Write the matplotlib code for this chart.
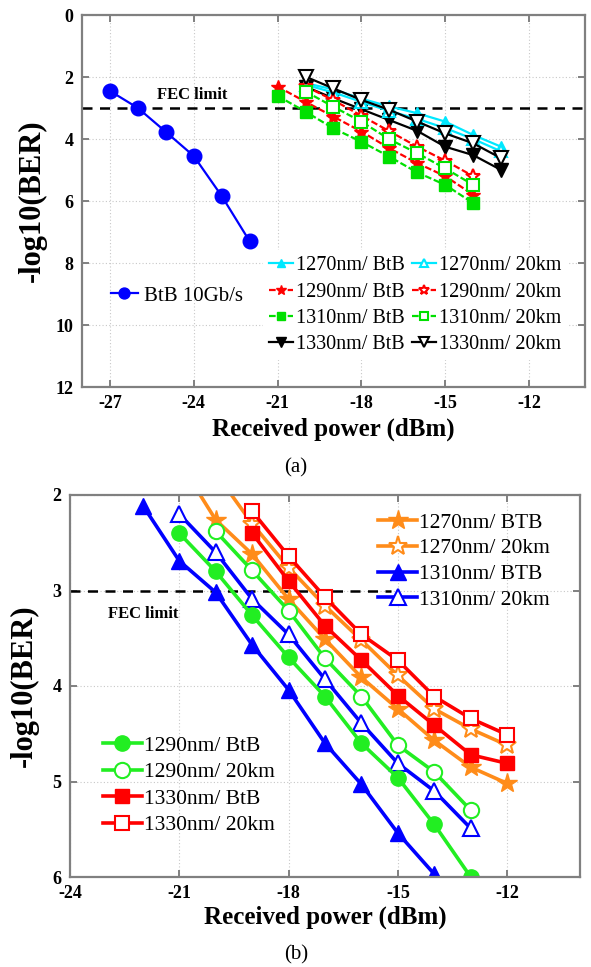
import matplotlib
matplotlib.use('Agg')
import matplotlib.pyplot as plt

plt.rcParams['font.family'] = ['Liberation Serif', 'DejaVu Serif']
plt.rcParams['axes.unicode_minus'] = False

# ---- data, panel (a) ----
x_10g = [-27, -26, -25, -24, -23, -22]
ber_10g = [2.45, 3.0, 3.77, 4.55, 5.84, 7.3]

x_a_20 = [-20, -19, -18, -17, -16, -15, -14, -13]
x_a_21 = [-21, -20, -19, -18, -17, -16, -15, -14]
x_a_20s = [-20, -19, -18, -17, -16, -15, -14]

a_1270_btb = [2.2, 2.4, 2.7, 2.95, 3.17, 3.44, 3.87, 4.25]
a_1270_20km = [2.25, 2.5, 2.8, 3.1, 3.35, 3.65, 4.0, 4.4]
a_1290_btb = [2.31, 2.8, 3.28, 3.76, 4.3, 4.78, 5.2, 5.8]
a_1290_20km = [2.3, 2.75, 3.25, 3.75, 4.25, 4.7, 5.2]
a_1310_btb = [2.61, 3.12, 3.66, 4.09, 4.57, 5.08, 5.48, 6.07]
a_1310_20km = [2.47, 2.96, 3.44, 4.01, 4.46, 4.95, 5.48]
a_1330_btb = [2.31, 2.69, 3.04, 3.39, 3.74, 4.25, 4.52, 5.0]
a_1330_20km = [1.99, 2.37, 2.74, 3.06, 3.44, 3.82, 4.14, 4.62]

# ---- data, panel (b) ----
b_x_1270_btb = [-21, -20, -19, -18, -17, -16, -15, -14, -13, -12]
b_1270_btb = [1.65, 2.26, 2.62, 3.09, 3.51, 3.91, 4.24, 4.57, 4.85, 5.02]
b_x_1270_20km = [-20, -19, -18, -17, -16, -15, -14, -13, -12]
b_1270_20km = [1.77, 2.3, 2.76, 3.16, 3.52, 3.89, 4.24, 4.45, 4.62]
b_x_1310_btb = [-22, -21, -20, -19, -18, -17, -16, -15, -14]
b_1310_btb = [2.11, 2.69, 3.02, 3.57, 4.04, 4.6, 5.03, 5.54, 5.97]
b_x_1310_20km = [-21, -20, -19, -18, -17, -16, -15, -14, -13]
b_1310_20km = [2.2, 2.6, 3.09, 3.46, 3.93, 4.39, 4.81, 5.1, 5.49]
b_x_1290_btb = [-21, -20, -19, -18, -17, -16, -15, -14, -13]
b_1290_btb = [2.4, 2.8, 3.26, 3.7, 4.11, 4.6, 4.96, 5.45, 6.0]
b_x_1290_20km = [-20, -19, -18, -17, -16, -15, -14, -13]
b_1290_20km = [2.38, 2.79, 3.21, 3.71, 4.11, 4.62, 4.9, 5.3]
b_x_1330 = [-19, -18, -17, -16, -15, -14, -13, -12]
b_1330_btb = [2.4, 2.9, 3.37, 3.73, 4.1, 4.41, 4.72, 4.81]
b_1330_20km = [2.17, 2.64, 3.07, 3.46, 3.73, 4.11, 4.34, 4.51]

fec = 3

frame_col = '#808080'
grid_col = '#c8c8c8'


def style_axes(ax):
    for s in ax.spines.values():
        s.set_color(frame_col)
        s.set_linewidth(1.6)
    ax.tick_params(direction='in', top=True, right=True, length=5, width=1.4,
                   color=frame_col, labelsize=13, pad=6)
    for lab in ax.get_xticklabels() + ax.get_yticklabels():
        lab.set_fontweight('bold')
    ax.grid(True, linestyle=(0, (1, 2)), color=grid_col, linewidth=0.8)
    ax.set_axisbelow(True)


fig = plt.figure(figsize=(5.91, 9.67), dpi=100)

# ================= panel (a) =================
ax1 = fig.add_axes([82 / 591, 1 - 387 / 967, 503 / 591, 372 / 967])
ax1.set_xlim(-28, -10)
ax1.set_ylim(12, 0)
ax1.set_xticks([-27, -24, -21, -18, -15, -12])
ax1.set_yticks([0, 2, 4, 6, 8, 10, 12])

ax1.axhline(fec, color='black', lw=1.8, linestyle=(0, (4, 3)), zorder=2)
ax1.text(-25.3, 2.58, 'FEC limit', fontsize=12, fontweight='bold', va='center')

h10, = ax1.plot(x_10g, ber_10g, color='#0000ff', lw=1.6, marker='o', ms=10.5,
                label='BtB 10Gb/s')

dash = (0, (3, 1.2))
mk_open = dict(markerfacecolor='white', markeredgewidth=1.5)
hs = []
hs += ax1.plot(x_a_20, a_1270_btb, color='#00e8ff', lw=1.6, marker='^', ms=9,
               label='1270nm/ BtB')
hs += ax1.plot(x_a_21, a_1290_btb, color='#ff0000', lw=1.6, ls=dash, marker='*', ms=10,
               label='1290nm/ BtB')
hs += ax1.plot(x_a_21, a_1310_btb, color='#00e000', lw=1.6, ls=dash, marker='s', ms=9,
               label='1310nm/ BtB')
hs += ax1.plot(x_a_20, a_1330_btb, color='black', lw=1.6, marker='v', ms=10,
               label='1330nm/ BtB')
hs += ax1.plot(x_a_20, a_1270_20km, color='#00e8ff', lw=1.6, marker='^', ms=9,
               label='1270nm/ 20km', **mk_open)
hs += ax1.plot(x_a_20s, a_1290_20km, color='#ff0000', lw=1.6, ls=dash, marker='*', ms=10,
               label='1290nm/ 20km', **mk_open)
hs += ax1.plot(x_a_20s, a_1310_20km, color='#00e000', lw=1.6, ls=dash, marker='s', ms=9,
               label='1310nm/ 20km', **mk_open)
hs += ax1.plot(x_a_20, a_1330_20km, color='black', lw=1.6, marker='v', ms=10.5,
               label='1330nm/ 20km', **mk_open)

leg1 = ax1.legend(handles=[h10], loc='center left', bbox_to_anchor=(0.02, 0.245),
                  frameon=False, fontsize=15, handlelength=1.3, handletextpad=0.3,
                  markerscale=0.75)
ax1.add_artist(leg1)
leg2 = ax1.legend(handles=hs, ncol=2, loc='upper left', bbox_to_anchor=(0.34, 0.395),
                  fontsize=14.5, handlelength=1.2, handletextpad=0.15, columnspacing=0.35,
                  labelspacing=0.36, markerscale=0.7, framealpha=1, edgecolor='white',
                  fancybox=False, borderpad=0.3)
leg2.get_frame().set_linewidth(0)

style_axes(ax1)
ax1.set_xlabel('Received power (dBm)', fontsize=18, fontweight='bold', labelpad=4)
ax1.set_ylabel('-log10(BER)', fontsize=22, fontweight='bold', labelpad=6)
fig.text(296 / 591, 1 - 468 / 967, '(a)', fontsize=15, ha='center', va='center')

# ================= panel (b) =================
ax2 = fig.add_axes([70 / 591, 1 - 877 / 967, 510 / 591, 382 / 967])
ax2.set_xlim(-24, -10)
ax2.set_ylim(6, 2)
ax2.set_xticks([-24, -21, -18, -15, -12])
ax2.set_yticks([2, 3, 4, 5, 6])

ax2.axhline(fec, xmin=0, xmax=0.63, color='black', lw=1.8, linestyle=(0, (4, 3)), zorder=2)
ax2.text(-22.95, 3.25, 'FEC limit', fontsize=12, fontweight='bold', va='center')

orange = '#ff8c1a'
lw_b = 2.6
g1 = []
g1 += ax2.plot(b_x_1270_btb, b_1270_btb, color=orange, lw=lw_b, marker='*', ms=15,
               label='1270nm/ BTB')
g1 += ax2.plot(b_x_1270_20km, b_1270_20km, color=orange, lw=lw_b, marker='*', ms=14,
               label='1270nm/ 20km', **mk_open)
g1 += ax2.plot(b_x_1310_btb, b_1310_btb, color='#0000ff', lw=lw_b, marker='^', ms=11,
               label='1310nm/ BTB')
g1 += ax2.plot(b_x_1310_20km, b_1310_20km, color='#0000ff', lw=lw_b, marker='^', ms=11.5,
               label='1310nm/ 20km', **mk_open)
g2 = []
g2 += ax2.plot(b_x_1290_btb, b_1290_btb, color='#22ee22', lw=lw_b, marker='o', ms=11,
               label='1290nm/ BtB')
g2 += ax2.plot(b_x_1290_20km, b_1290_20km, color='#22ee22', lw=lw_b, marker='o', ms=11,
               label='1290nm/ 20km', **mk_open)
g2 += ax2.plot(b_x_1330, b_1330_btb, color='#ff0000', lw=lw_b, marker='s', ms=10.5,
               label='1330nm/ BtB')
g2 += ax2.plot(b_x_1330, b_1330_20km, color='#ff0000', lw=lw_b, marker='s', ms=10.5,
               label='1330nm/ 20km', **mk_open)

leg3 = ax2.legend(handles=g1, loc='upper left', bbox_to_anchor=(0.575, 0.993),
                  frameon=False, fontsize=15.5, handlelength=1.8, handletextpad=0.1,
                  labelspacing=0.26, borderpad=0.2)
ax2.add_artist(leg3)
ax2.legend(handles=g2, loc='lower left', bbox_to_anchor=(0.035, 0.07),
           frameon=False, fontsize=15.5, handlelength=1.8, handletextpad=0.1,
           labelspacing=0.3, borderpad=0.2)

style_axes(ax2)
ax2.set_xlabel('Received power (dBm)', fontsize=18, fontweight='bold', labelpad=2)
ax2.set_ylabel('-log10(BER)', fontsize=22, fontweight='bold', labelpad=10)
fig.text(296 / 591, 1 - 955 / 967, '(b)', fontsize=15, ha='center', va='center')

fig.savefig('out.png', dpi=100)
